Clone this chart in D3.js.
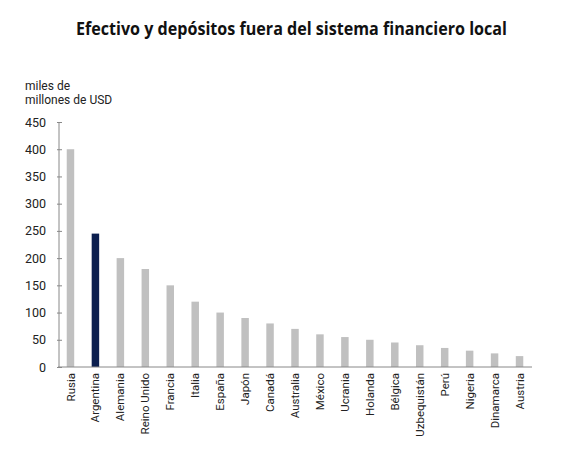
<!DOCTYPE html>
<html><head><meta charset="utf-8">
<script src="https://cdn.jsdelivr.net/npm/d3@7"></script>
<style>body{margin:0;background:#fff}</style>
</head><body>
<svg id="c" width="584" height="462"></svg>
<script>
const categories = ["Rusia","Argentina","Alemania","Reino Unido","Francia","Italia","España","Japón","Canadá","Australia","México","Ucrania","Holanda","Bélgica","Uzbequistán","Perú","Nigeria","Dinamarca","Austria"];
const values = [400,245,200,180,150,120,100,90,80,70,60,55,50,45,40,35,30,25,20];
const yTicks = [0,50,100,150,200,250,300,350,400,450];
const highlight = "Argentina";

const svg = d3.select("#c");
const x = d3.scaleBand().domain(categories).range([58,532]).paddingInner(0.7).paddingOuter(0.35);
const y = d3.scaleLinear().domain([0,450]).range([367,122]);

svg.append("text").attr("x",76).attr("y",35)
  .attr("font-family","Open Sans").attr("font-weight","700").attr("font-size",18).attr("fill","#111")
  .attr("textLength",431).attr("lengthAdjust","spacingAndGlyphs")
  .text("Efectivo y depósitos fuera del sistema financiero local");

svg.append("text").attr("font-family","Roboto").attr("font-size",12).attr("fill","#222")
  .selectAll("tspan").data(["miles de","millones de USD"]).join("tspan")
  .attr("x",25).attr("y",(d,i)=>90+i*14).text(d=>d);

svg.append("g").selectAll("rect").data(categories).join("rect")
  .attr("x",d=>x(d)).attr("width",x.bandwidth())
  .attr("y",(d,i)=>y(values[i])).attr("height",(d,i)=>y(0)-y(values[i]))
  .attr("fill",d=>d===highlight?"#0c1f4f":"#c0c0c0");

const ya = svg.append("g").attr("transform","translate(59,0)")
  .call(d3.axisLeft(y).tickValues(yTicks).tickSize(2).tickPadding(11));
ya.select(".domain").attr("stroke","#888").attr("d","M0,122V367");
ya.selectAll(".tick line").attr("stroke","#888").attr("x2",-2).attr("x1",3);
ya.selectAll("text").attr("font-family","Roboto").attr("font-size",12.5).attr("fill","#222");

const xa = svg.append("g").attr("transform","translate(0,367)")
  .call(d3.axisBottom(x).tickSize(0).tickPadding(0));
xa.select(".domain").attr("stroke","#888").attr("d","M58,0H532");
xa.selectAll("text").attr("font-family","Roboto").attr("font-size",11.5).attr("fill","#222")
  .attr("transform","rotate(-90)").attr("text-anchor","end").attr("dy","0.35em")
  .attr("x",-6).attr("y",0);
</script>
</body></html>
